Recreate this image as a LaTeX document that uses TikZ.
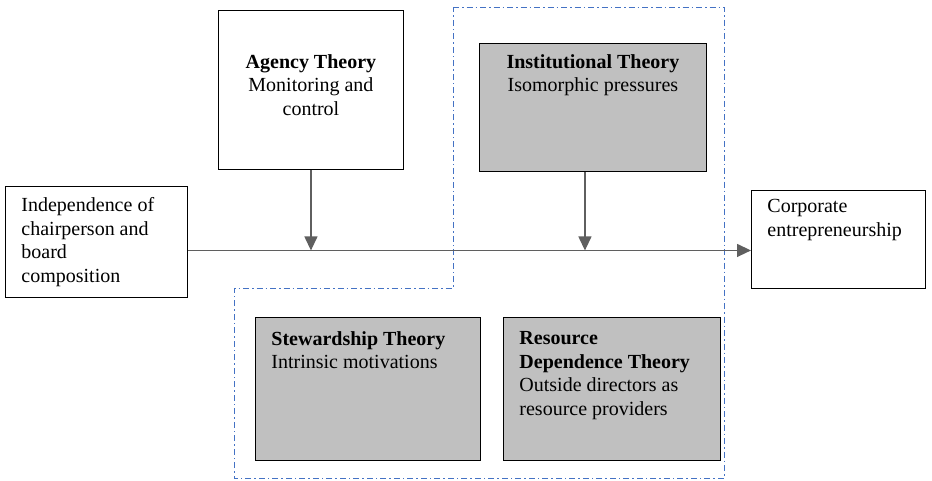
\documentclass[tikz,border=0pt]{standalone}
\usepackage{fontspec}
\setmainfont{Liberation Serif}
\usetikzlibrary{arrows.meta}

\definecolor{boxgray}{RGB}{192,192,192}
\definecolor{flowgray}{RGB}{95,95,95}
\definecolor{zoneblue}{RGB}{68,114,196}
\newcommand{\lbody}[4]{\parbox[t][#1][t]{#2}{\vspace*{#3}\raggedright\leftskip=16pt\relax #4}}
\newcommand{\cbody}[4]{\parbox[t][#1][t]{#2}{\vspace*{#3}\centering #4}}

\begin{document}
\begin{tikzpicture}[x=1pt,y=-1pt]
\tikzstyle{every node}=[font=\fontsize{20}{23.5}\selectfont]
\tikzstyle{box}=[draw, anchor=north west, inner sep=0pt, line width=0.9pt]
\tikzstyle{shaded}=[box, fill=boxgray]
\tikzstyle{flow}=[draw=flowgray, line width=1.3pt, -{Triangle[width=13pt,length=14pt]}]
\useasboundingbox (0,0) rectangle (932,480);
\draw[zoneblue, line width=0.9pt, dash pattern=on 6pt off 3pt on 1.5pt off 3pt] (453,7) -- (724,7) -- (724,478) -- (234,478) -- (234,288) -- (453,288) -- cycle;
\node (indep) [box] at (5,186) {\lbody{111pt}{182pt}{11pt}{Independence of\\chairperson and\\board\\composition}};
\node (agency) [box] at (218,10) {\cbody{159pt}{185pt}{44pt}{\textbf{Agency Theory}\\Monitoring and\\control}};
\node (inst) [shaded] at (479,43) {\cbody{128pt}{227pt}{11pt}{\textbf{Institutional Theory}\\Isomorphic pressures}};
\node (corp) [box] at (751,190) {\lbody{98pt}{174pt}{9pt}{Corporate\\entrepreneurship}};
\node (stew) [shaded] at (255,317) {\lbody{143pt}{225pt}{14pt}{\textbf{Stewardship Theory}\\Intrinsic motivations}};
\node (res) [shaded] at (503,317) {\lbody{143pt}{217pt}{14pt}{\textbf{Resource}\\\textbf{Dependence Theory}\\Outside directors as\\resource providers}};
\coordinate (mainstart) at ([yshift=-8.5pt]indep.east);
\draw[flow] (mainstart) -- (mainstart -| corp.west);
\draw[flow] (agency.south) -- (agency.south |- mainstart);
\draw[flow] ([xshift=-8pt]inst.south) -- ([xshift=-8pt]inst.south |- mainstart);
\end{tikzpicture}
\end{document}
